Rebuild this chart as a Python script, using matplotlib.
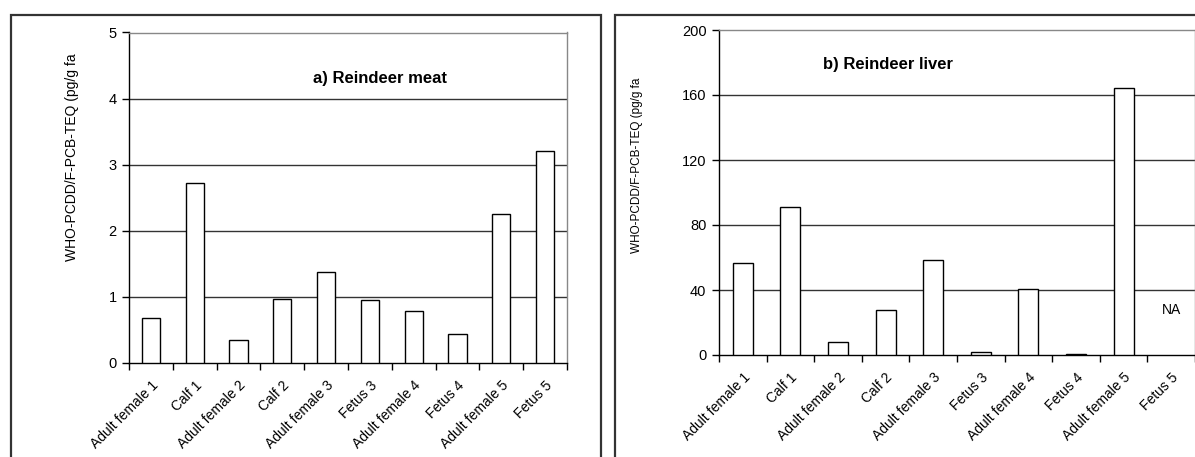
import numpy as np
import matplotlib.pyplot as plt
from matplotlib.patches import Rectangle

plt.rcParams['font.family'] = ['Liberation Sans', 'DejaVu Sans']

categories = ['Adult female 1', 'Calf 1', 'Adult female 2', 'Calf 2', 'Adult female 3',
              'Fetus 3', 'Adult female 4', 'Fetus 4', 'Adult female 5', 'Fetus 5']
meat = [0.68, 2.72, 0.35, 0.97, 1.38, 0.95, 0.78, 0.44, 2.25, 3.21]
liver = [56.6, 90.9, 7.8, 27.8, 58.2, 1.6, 40.7, 0.8, 164.5, np.nan]  # Fetus 5 not analysed
meat_ticks = [0, 1, 2, 3, 4, 5]
liver_ticks = [0, 40, 80, 120, 160, 200]
ylabel = 'WHO-PCDD/F-PCB-TEQ (pg/g fa'

fig = plt.figure(figsize=(11.95, 4.57), dpi=100)

# outer panel frames (like the boxes around the two charts)
W, H = 1195, 457
for x0, x1 in [(11, 601), (615, 1230)]:
    fig.patches.append(Rectangle((x0 / W, -0.1), (x1 - x0) / W, (H - 15) / H + 0.1,
                                 transform=fig.transFigure, fill=False,
                                 edgecolor='#333333', linewidth=1.6))

ax1 = fig.add_axes([129 / W, (H - 363) / H, 438 / W, 330.5 / H])
ax2 = fig.add_axes([719 / W, (H - 355) / H, 476 / W, 325 / H])


def draw(ax, values, yticks, title, title_xy, label_size, label_xy):
    x = np.arange(len(categories))
    ax.bar(x, values, width=0.42, color='white', edgecolor='black', linewidth=1.0, zorder=3)
    ax.set_xlim(-0.5, len(categories) - 0.5)
    ax.set_ylim(yticks[0], yticks[-1])
    ax.set_yticks(yticks)
    ax.set_yticklabels([str(t) for t in yticks], fontsize=10.5)
    ax.tick_params(axis='y', direction='out', length=5, width=1, pad=4)
    for t in yticks[1:-1]:
        ax.axhline(t, color='#333333', linewidth=1.0, zorder=1)
    ax.set_xticks(x)
    ax.set_xticklabels(categories, rotation=45, ha='right', rotation_mode='anchor', fontsize=10)
    ax.tick_params(axis='x', which='major', length=0, pad=11)
    ax.set_xticks(np.arange(len(categories) + 1) - 0.5, minor=True)
    ax.tick_params(axis='x', which='minor', direction='out', length=5, width=1)
    for s in ['left', 'bottom']:
        ax.spines[s].set_color('black')
        ax.spines[s].set_linewidth(1.0)
    for s in ['top', 'right']:
        ax.spines[s].set_color('#888888')
        ax.spines[s].set_linewidth(1.0)
    ax.text(title_xy[0], title_xy[1], title, fontsize=12, fontweight='bold',
            ha='center', va='center')
    ax.set_ylabel(ylabel, fontsize=label_size)
    ax.yaxis.set_label_coords(*label_xy)


draw(ax1, meat, meat_ticks, 'a) Reindeer meat', (5.23, 4.3), 10,
     ((79 - 129) / 438, (363 - 157) / 330.5))
draw(ax2, liver, liver_ticks, 'b) Reindeer liver', (3.05, 178.5), 8.5,
     ((643 - 719) / 476, (355 - 165) / 325))
ax2.text(9, 27.7, 'NA', fontsize=10, ha='center', va='center')

fig.savefig('out.png', dpi=100)
